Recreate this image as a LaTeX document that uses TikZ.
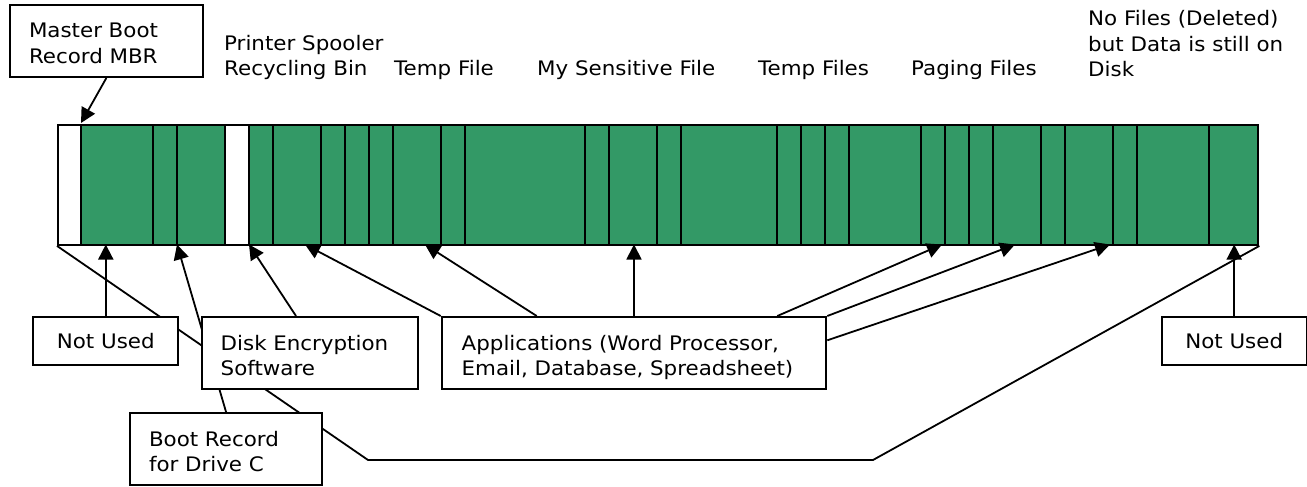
\documentclass[tikz,border=0pt]{standalone}
\usepackage{fontspec}
\setmainfont{DejaVu Sans}[FakeStretch=1.07]
\usetikzlibrary{arrows.meta,calc}
\definecolor{diskgreen}{RGB}{51,153,102}
\pgfdeclarelayer{back}
\pgfsetlayers{back,main}
\newcommand\textstack[1]{\begin{tabular}[t]{@{}l@{}}#1\end{tabular}}

\begin{document}
\begin{tikzpicture}[x=1pt,y=-1pt,
  font=\fontsize{20}{25.5}\selectfont,
  box/.style={draw, line width=2pt, fill=white, anchor=north west, inner sep=0pt},
  twoline/.style={box, align=left, inner xsep=19pt, text height=15pt, text depth=21pt, minimum height=72pt},
  onebox/.style={box, minimum width=145pt, minimum height=48pt},
  tag/.style={anchor=base west, inner sep=0pt},
  link/.style={line width=1.8pt},
  arr/.style={link, -{Triangle[width=15pt,length=15pt]}},
  divider/.style={line width=2.2pt}
]
\useasboundingbox (0,0) rectangle (1307,487);

% the disk, one cell per cluster
\node[draw, line width=2.4pt, minimum width=1200pt, minimum height=119.5pt,
      anchor=north west, inner sep=0pt] (disk) at (57,124) {};
\begin{pgfonlayer}{back}
  \fill[diskgreen] (disk.north west) rectangle (disk.south east);
  \fill[white] (57,124) rectangle (81,243.5);
  \fill[white] (225,124) rectangle (249,243.5);
\end{pgfonlayer}
\foreach \x in {81,153,177,225,249,273,321,345,369,393,441,465,585,609,657,681,
                777,801,825,849,921,945,969,993,1041,1065,1113,1137,1209}
  \draw[divider] (\x,124) -- (\x,243.5);

% labels above the disk
\node[tag] (spool) at (224,50.5) {\textstack{Printer Spooler\\Recycling Bin}};
\node[tag] (tmpa)  at (394,75) {Temp File};
\node[tag] (sens)  at (537,75) {My Sensitive File};
\node[tag] (tmpb)  at (758,75) {Temp Files};
\node[tag] (page)  at (911,75) {Paging Files};
\node[tag] (freed) at (1088,26) {\textstack{No Files (Deleted)\\but Data is still on\\Disk}};

% boxes
\node[twoline, text width=154.7pt] (mbr)  at (9,4)        {Master Boot\\Record MBR};
\node[onebox] (nuL) at (32.3,316)   {Not Used};
\node[twoline, text width=178.6pt] (enc)  at (200.7,316)  {Disk Encryption\\Software};
\node[twoline, text width=154.3pt] (boot) at (129,412.3)  {Boot Record\\for Drive C};
\node[twoline, inner xsep=20pt, text width=344.6pt] (apps) at (440.7,316)
  {Applications (Word Processor,\\Email, Database, Spreadsheet)};
\node[onebox] (nuR) at (1160.7,316) {Not Used};

% arrow targets on the disk
\coordinate (tMBR)  at (81,123);
\coordinate (tBoot) at (177,244.5);
\coordinate (tEnc)  at (249,244.5);
\coordinate (tA1)   at (305,244.5);
\coordinate (tA2)   at (425,244.5);
\coordinate (tA4)   at (942,244.5);
\coordinate (tA5)   at (1015,244.5);
\coordinate (tA6)   at (1110,244.5);
\coordinate (k1)    at (368,460);
\coordinate (k2)    at (873,460);

\begin{pgfonlayer}{back}
  % whole-disk span
  \draw[link] (disk.south west) -- (k1) -- (k2) -- (disk.south east);
  \draw[arr] (mbr.south) -- (tMBR);
  \draw[arr] (nuL.north) -- (nuL.north |- tBoot);
  \draw[arr] (boot.north) -- (tBoot);
  \draw[arr] ($(enc.north west)+(95.3,0)$) -- (tEnc);
  \draw[arr] (apps.north west) -- (tA1);
  \draw[arr] ($(apps.north west)+(96,0)$) -- (tA2);
  \draw[arr] (apps.north) -- (apps.north |- tA2);
  \draw[arr] ($(apps.north west)+(336.6,0)$) -- (tA4);
  \draw[arr] (apps.north east) -- (tA5);
  \draw[arr] ($(apps.east)+(0,-12.7)$) -- (tA6);
  \draw[arr] (nuR.north) -- (nuR.north |- tA2);
\end{pgfonlayer}
\end{tikzpicture}
\end{document}
